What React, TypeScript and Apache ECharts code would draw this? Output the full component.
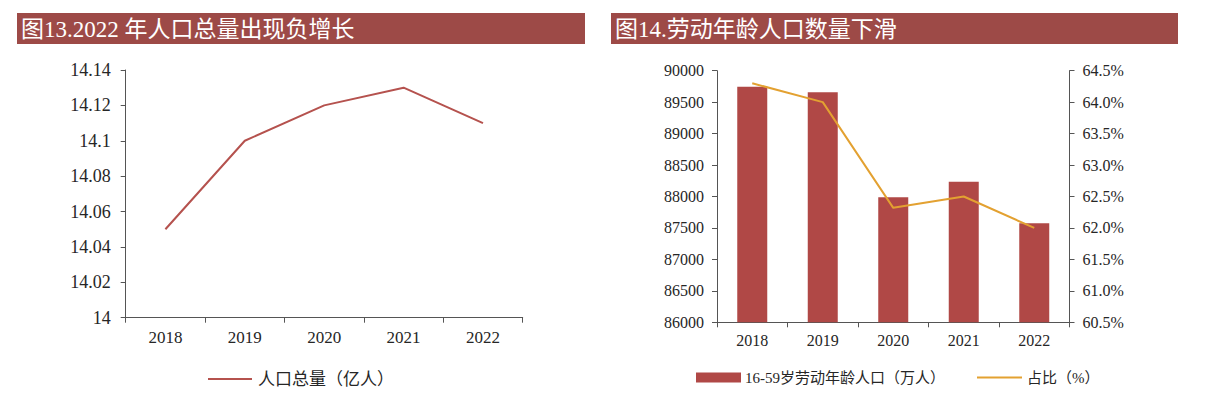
import React, { useEffect, useRef } from "react";
import * as echarts from "echarts";

const categories = ["2018", "2019", "2020", "2021", "2022"];
const totalPopulation = [14.05, 14.1, 14.12, 14.13, 14.11];
const workingAgePopulation = [89746, 89656, 87987, 88235, 87574];
const workingAgeShare = [64.3, 64.0, 62.32, 62.5, 62.0];

const title1 = "图13.2022 年人口总量出现负增长";
const title2 = "图14.劳动年龄人口数量下滑";
const seriesName1 = "人口总量（亿人）";
const seriesName2 = "16-59岁劳动年龄人口（万人）";
const seriesName3 = "占比（%）";

const FONT = "'Liberation Serif', 'Times New Roman', 'Noto Sans CJK SC', serif";
const AXIS_COLOR = "#555555";
const LABEL_COLOR = "#262626";
const BAR_COLOR = "#B04846";
const LINE1_COLOR = "#B5524E";
const LINE2_COLOR = "#E3A131";
const TITLE_BG = "#9D4A47";

export default function App() {
  const ref = useRef<HTMLDivElement>(null);

  useEffect(() => {
    if (!ref.current) return;
    const chart = echarts.init(ref.current, null, { renderer: "svg" });

    const axisLine = { show: true, lineStyle: { color: AXIS_COLOR, width: 1 } };
    const axisTick = { show: true, length: 5, lineStyle: { color: AXIS_COLOR } };

    chart.setOption({
      animation: false,
      backgroundColor: "#ffffff",
      textStyle: { fontFamily: FONT },
      graphic: [
        { type: "rect", shape: { x: 17, y: 13, width: 568, height: 31 }, style: { fill: TITLE_BG } },
        { type: "rect", shape: { x: 611, y: 13, width: 567, height: 31 }, style: { fill: TITLE_BG } },
        {
          type: "text",
          x: 21,
          y: 29,
          style: { text: title1, fill: "#ffffff", font: `23px ${FONT}`, textVerticalAlign: "middle" },
        },
        {
          type: "text",
          x: 615,
          y: 29,
          style: { text: title2, fill: "#ffffff", font: `23px ${FONT}`, textVerticalAlign: "middle" },
        },
        // legend, left chart
        {
          type: "line",
          shape: { x1: 208, y1: 379, x2: 252, y2: 379 },
          style: { stroke: LINE1_COLOR, lineWidth: 2 },
        },
        {
          type: "text",
          x: 258,
          y: 379,
          style: { text: seriesName1, fill: LABEL_COLOR, font: `17px ${FONT}`, textVerticalAlign: "middle" },
        },
        // legend, right chart
        {
          type: "rect",
          shape: { x: 696, y: 372.5, width: 45, height: 10 },
          style: { fill: BAR_COLOR },
        },
        {
          type: "text",
          x: 745,
          y: 377.5,
          style: { text: seriesName2, fill: LABEL_COLOR, font: `15px ${FONT}`, textVerticalAlign: "middle" },
        },
        {
          type: "line",
          shape: { x1: 977, y1: 377.5, x2: 1022, y2: 377.5 },
          style: { stroke: LINE2_COLOR, lineWidth: 2 },
        },
        {
          type: "text",
          x: 1027,
          y: 377.5,
          style: { text: seriesName3, fill: LABEL_COLOR, font: `15px ${FONT}`, textVerticalAlign: "middle" },
        },
      ],
      grid: [
        { left: 125.7, top: 70, width: 397, height: 247.7, containLabel: false },
        { left: 717, top: 70.7, width: 352.5, height: 251.6, containLabel: false },
      ],
      xAxis: [
        {
          type: "category",
          gridIndex: 0,
          data: categories,
          axisLine,
          axisTick: { ...axisTick, alignWithLabel: false },
          axisLabel: { color: LABEL_COLOR, fontSize: 17, margin: 11, fontFamily: FONT },
        },
        {
          type: "category",
          gridIndex: 1,
          data: categories,
          axisLine,
          axisTick: { ...axisTick, alignWithLabel: false },
          axisLabel: { color: LABEL_COLOR, fontSize: 16, margin: 10, fontFamily: FONT },
        },
      ],
      yAxis: [
        {
          type: "value",
          gridIndex: 0,
          min: 14,
          max: 14.14,
          interval: 0.02,
          axisLine,
          axisTick,
          splitLine: { show: false },
          axisLabel: {
            color: LABEL_COLOR,
            fontSize: 18,
            margin: 15,
            fontFamily: FONT,
            formatter: (v: number) => String(parseFloat(v.toFixed(2))),
          },
        },
        {
          type: "value",
          gridIndex: 1,
          min: 86000,
          max: 90000,
          interval: 500,
          axisLine,
          axisTick,
          splitLine: { show: false },
          axisLabel: {
            color: LABEL_COLOR,
            fontSize: 16,
            margin: 13,
            fontFamily: FONT,
            formatter: (v: number) => String(Math.round(v)),
          },
        },
        {
          type: "value",
          gridIndex: 1,
          position: "right",
          min: 60.5,
          max: 64.5,
          interval: 0.5,
          axisLine,
          axisTick,
          splitLine: { show: false },
          axisLabel: {
            color: LABEL_COLOR,
            fontSize: 16,
            margin: 13,
            fontFamily: FONT,
            formatter: (v: number) => v.toFixed(1) + "%",
          },
        },
      ],
      series: [
        {
          name: seriesName1,
          type: "line",
          xAxisIndex: 0,
          yAxisIndex: 0,
          data: totalPopulation,
          symbol: "none",
          showSymbol: false,
          lineStyle: { color: LINE1_COLOR, width: 2 },
          itemStyle: { color: LINE1_COLOR },
        },
        {
          name: seriesName2,
          type: "bar",
          xAxisIndex: 1,
          yAxisIndex: 1,
          data: workingAgePopulation,
          barWidth: 30,
          itemStyle: { color: BAR_COLOR },
        },
        {
          name: seriesName3,
          type: "line",
          xAxisIndex: 1,
          yAxisIndex: 2,
          data: workingAgeShare,
          symbol: "none",
          showSymbol: false,
          lineStyle: { color: LINE2_COLOR, width: 2 },
          itemStyle: { color: LINE2_COLOR },
        },
      ],
    });

    return () => chart.dispose();
  }, []);

  return (
    <div
      ref={ref}
      style={{ position: "absolute", left: 0, top: 0, width: 1210, height: 394 }}
    />
  );
}
